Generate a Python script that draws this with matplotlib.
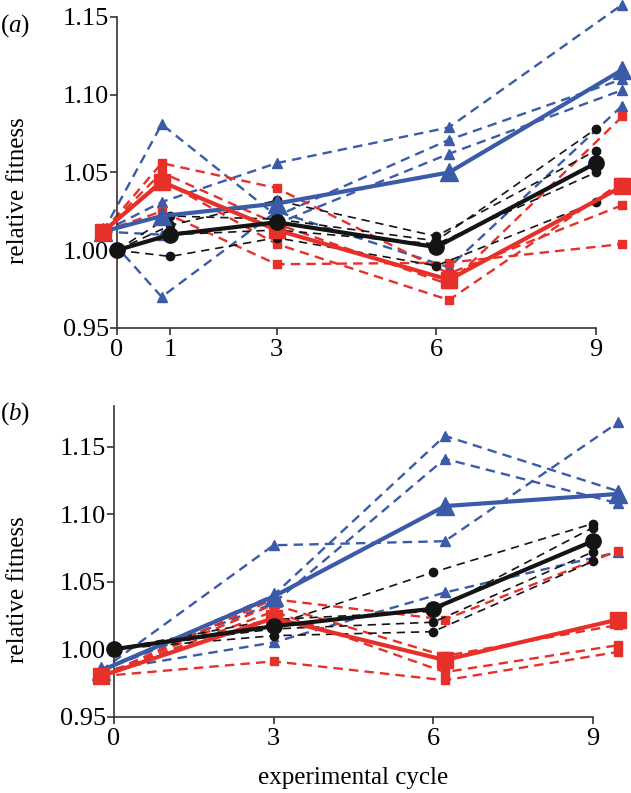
import numpy as np
import matplotlib
matplotlib.use("Agg")
import matplotlib.pyplot as plt

plt.rcParams["font.family"] = ["Liberation Serif", "DejaVu Serif"]
plt.rcParams["mathtext.fontset"] = "custom"
plt.rcParams["mathtext.rm"] = "Liberation Serif"
plt.rcParams["mathtext.it"] = "Liberation Serif:italic"

BLUE = "#3b5ba9"
RED = "#e8302a"
BLACK = "#141414"

# -- panel (a) data --
a_x_col = [-0.26, 0.84, 3.0, 6.24, 9.5]   # blue / red measurement points
a_x_blk = [0, 1, 3, 6, 9]                  # black measurement points

a_blue_reps = [
    [1.012, 1.081, 1.022, 1.071, 1.110],
    [1.012, 1.031, 1.056, 1.079, 1.158],
    [1.012, 1.010, 1.017, 1.062, 1.103],
    [1.012, 0.970, 1.025, 0.989, 1.093],
]
a_blue_mean = [1.012, 1.022, 1.030, 1.050, 1.116]

a_red_reps = [
    [1.012, 1.056, 1.040, 0.985, 1.029],
    [1.012, 1.050, 1.017, 0.978, 1.086],
    [1.012, 1.045, 1.004, 0.968, 1.044],
    [1.012, 1.025, 0.991, 0.992, 1.004],
]
a_red_mean = [1.012, 1.044, 1.013, 0.981, 1.041]

a_blk_reps = [
    [1.000, 1.022, 1.020, 1.006, 1.078],
    [1.000, 1.016, 1.032, 1.009, 1.064],
    [1.000, 1.010, 1.013, 1.004, 1.050],
    [1.000, 0.996, 1.008, 0.990, 1.031],
]
a_blk_mean = [1.000, 1.010, 1.018, 1.002, 1.056]

# -- panel (b) data --
b_x_col = [-0.25, 3.0, 6.22, 9.48]
b_x_blk = [0, 3, 6, 9]

b_blue_reps = [
    [0.984, 1.077, 1.080, 1.168],
    [0.984, 1.040, 1.158, 1.117],
    [0.984, 1.034, 1.141, 1.108],
    [0.984, 1.005, 1.042, 1.072],
]
b_blue_mean = [0.984, 1.039, 1.106, 1.115]

b_red_reps = [
    [0.980, 1.037, 1.022, 1.073],
    [0.980, 1.033, 0.995, 1.018],
    [0.980, 1.028, 0.983, 1.003],
    [0.980, 0.991, 0.977, 0.998],
]
b_red_mean = [0.980, 1.023, 0.992, 1.022]

b_blk_reps = [
    [1.000, 1.018, 1.057, 1.093],
    [1.000, 1.022, 1.028, 1.090],
    [1.000, 1.015, 1.020, 1.072],
    [1.000, 1.010, 1.013, 1.065],
]
b_blk_mean = [1.000, 1.017, 1.030, 1.080]

yticks = [0.95, 1.00, 1.05, 1.10, 1.15]
ytick_labels = ["0.95", "1.00", "1.05", "1.10", "1.15"]


def draw_panel(ax, x_col, x_blk, blue_reps, blue_mean, red_reps, red_mean,
               blk_reps, blk_mean, xticks, ylim):
    dash_col = (0, (4, 2.6))
    dash_blk = (0, (5, 3.5))
    for ys in blue_reps:
        ax.plot(x_col, ys, color=BLUE, lw=1.7, ls=dash_col, marker="^",
                ms=7, clip_on=False, zorder=2)
    for ys in red_reps:
        ax.plot(x_col, ys, color=RED, lw=1.7, ls=dash_col, marker="s",
                ms=6, clip_on=False, zorder=2)
    for ys in blk_reps:
        ax.plot(x_blk, ys, color=BLACK, lw=1.2, ls=dash_blk, marker="o",
                ms=6, clip_on=False, zorder=2)
    ax.plot(x_col, blue_mean, color=BLUE, lw=3.0, marker="^", ms=13,
            clip_on=False, zorder=3)
    ax.plot(x_col, red_mean, color=RED, lw=3.0, marker="s", ms=11,
            clip_on=False, zorder=4)
    ax.plot(x_blk, blk_mean, color=BLACK, lw=3.0, marker="o", ms=11,
            clip_on=False, zorder=5)

    ax.set_xlim(-0.4, 9.6)
    ax.set_ylim(*ylim)
    ax.set_xticks(xticks)
    ax.set_xticklabels([str(t) for t in xticks])
    ax.set_yticks(yticks)
    ax.set_yticklabels(ytick_labels)

    for s in ["top", "right"]:
        ax.spines[s].set_visible(False)
    ax.spines["left"].set_position(("data", 0))
    ax.spines["left"].set_bounds(0.95, ylim[1])
    ax.spines["bottom"].set_bounds(0, 9)
    for s in ["left", "bottom"]:
        ax.spines[s].set_linewidth(1.2)
        ax.spines[s].set_color("#333333")
    ax.tick_params(axis="both", direction="out", length=5, width=1.2,
                   color="#333333", labelsize=19)
    ax.tick_params(axis="y", pad=1)
    ax.tick_params(axis="x", pad=3)
    ax.patch.set_visible(False)


fig = plt.figure(figsize=(6.31, 7.93), dpi=100)

ax_a = fig.add_axes([0.1517, 0.5864, 0.843, 0.3922])
draw_panel(ax_a, a_x_col, a_x_blk, a_blue_reps, a_blue_mean, a_red_reps,
           a_red_mean, a_blk_reps, a_blk_mean, [0, 1, 3, 6, 9], (0.95, 1.15))

ax_b = fig.add_axes([0.1469, 0.0962, 0.843, 0.3916])
draw_panel(ax_b, b_x_col, b_x_blk, b_blue_reps, b_blue_mean, b_red_reps,
           b_red_mean, b_blk_reps, b_blk_mean, [0, 3, 6, 9], (0.95, 1.18))

fig.text(0.0, 0.968, r"($\it{a}$)", fontsize=18, va="center", ha="left")
fig.text(0.0, 0.479, r"($\it{b}$)", fontsize=18, va="center", ha="left")

fig.text(0.0285, 0.760, "relative fitness", fontsize=18, rotation=90,
         va="center", ha="center")
fig.text(0.0285, 0.256, "relative fitness", fontsize=18, rotation=90,
         va="center", ha="center")
fig.text(353.5 / 631, 1 - 778 / 793, "experimental cycle", fontsize=18,
         va="center", ha="center")

fig.savefig("out.png", dpi=100)
